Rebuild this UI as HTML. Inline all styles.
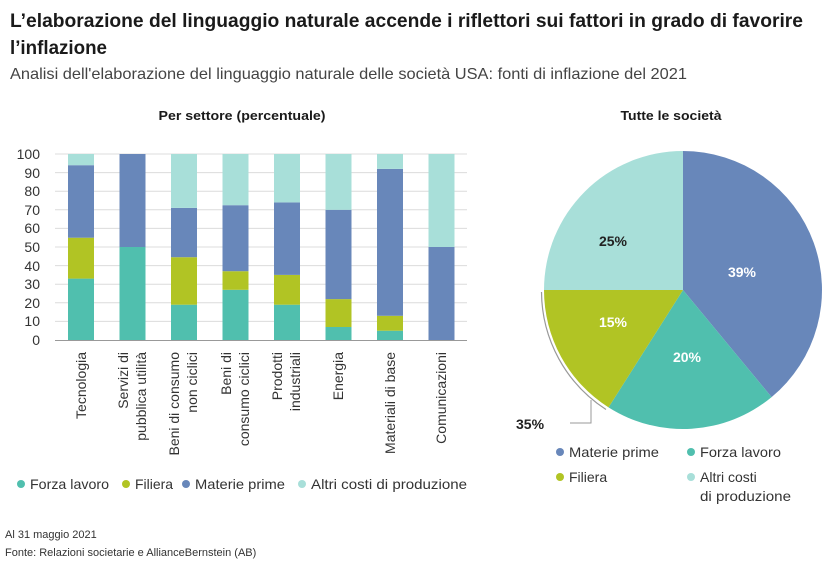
<!DOCTYPE html>
<html><head><meta charset="utf-8"><style>
body{margin:0;background:#fff;}
svg{display:block;font-family:"Liberation Sans",sans-serif;}
</style></head><body>
<svg width="840" height="561" viewBox="0 0 840 561">
<text x="10" y="27" font-size="19" font-weight="bold" fill="#1a1a1a" textLength="793" lengthAdjust="spacingAndGlyphs">L’elaborazione del linguaggio naturale accende i riflettori sui fattori in grado di favorire</text>
<text x="10" y="54" font-size="19" font-weight="bold" fill="#1a1a1a" textLength="97" lengthAdjust="spacingAndGlyphs">l’inflazione</text>
<text x="10" y="79" font-size="16" fill="#444" textLength="677" lengthAdjust="spacingAndGlyphs">Analisi dell'elaborazione del linguaggio naturale delle società USA: fonti di inflazione del 2021</text>
<text x="242" y="120" font-size="13" font-weight="bold" fill="#1a1a1a" text-anchor="middle" textLength="167" lengthAdjust="spacingAndGlyphs">Per settore (percentuale)</text>
<text x="671" y="120" font-size="13" font-weight="bold" fill="#1a1a1a" text-anchor="middle" textLength="101" lengthAdjust="spacingAndGlyphs">Tutte le società</text>
<g stroke="#dcdcdc" stroke-width="1">
<line x1="55" x2="467" y1="154" y2="154"/><line x1="55" x2="467" y1="172.6" y2="172.6"/><line x1="55" x2="467" y1="191.2" y2="191.2"/><line x1="55" x2="467" y1="209.8" y2="209.8"/><line x1="55" x2="467" y1="228.4" y2="228.4"/><line x1="55" x2="467" y1="247" y2="247"/><line x1="55" x2="467" y1="265.6" y2="265.6"/><line x1="55" x2="467" y1="284.2" y2="284.2"/><line x1="55" x2="467" y1="302.8" y2="302.8"/><line x1="55" x2="467" y1="321.4" y2="321.4"/>
</g>
<g font-size="14" fill="#333" text-anchor="end">
<text x="40" y="159">100</text><text x="40" y="178">90</text><text x="40" y="196">80</text><text x="40" y="215">70</text><text x="40" y="233">60</text><text x="40" y="252">50</text><text x="40" y="271">40</text><text x="40" y="289">30</text><text x="40" y="308">20</text><text x="40" y="326">10</text><text x="40" y="345">0</text>
</g>
<g>
<rect x="68" y="278.6" width="26" height="61.4" fill="#50bfae"/><rect x="68" y="237.7" width="26" height="40.9" fill="#b1c424"/><rect x="68" y="165.2" width="26" height="72.5" fill="#6887ba"/><rect x="68" y="154" width="26" height="11.2" fill="#a8dfd9"/>
<rect x="119.5" y="247" width="26" height="93" fill="#50bfae"/><rect x="119.5" y="154" width="26" height="93" fill="#6887ba"/>
<rect x="171" y="304.7" width="26" height="35.3" fill="#50bfae"/><rect x="171" y="257.2" width="26" height="47.5" fill="#b1c424"/><rect x="171" y="207.9" width="26" height="49.3" fill="#6887ba"/><rect x="171" y="154" width="26" height="53.9" fill="#a8dfd9"/>
<rect x="222.5" y="289.8" width="26" height="50.2" fill="#50bfae"/><rect x="222.5" y="271.2" width="26" height="18.6" fill="#b1c424"/><rect x="222.5" y="205.2" width="26" height="66" fill="#6887ba"/><rect x="222.5" y="154" width="26" height="51.2" fill="#a8dfd9"/>
<rect x="274" y="304.7" width="26" height="35.3" fill="#50bfae"/><rect x="274" y="274.9" width="26" height="29.8" fill="#b1c424"/><rect x="274" y="202.4" width="26" height="72.5" fill="#6887ba"/><rect x="274" y="154" width="26" height="48.4" fill="#a8dfd9"/>
<rect x="325.5" y="327" width="26" height="13" fill="#50bfae"/><rect x="325.5" y="299.1" width="26" height="27.9" fill="#b1c424"/><rect x="325.5" y="209.8" width="26" height="89.3" fill="#6887ba"/><rect x="325.5" y="154" width="26" height="55.8" fill="#a8dfd9"/>
<rect x="377" y="330.7" width="26" height="9.3" fill="#50bfae"/><rect x="377" y="315.8" width="26" height="14.9" fill="#b1c424"/><rect x="377" y="168.9" width="26" height="146.9" fill="#6887ba"/><rect x="377" y="154" width="26" height="14.9" fill="#a8dfd9"/>
<rect x="428.5" y="247" width="26" height="93" fill="#6887ba"/><rect x="428.5" y="154" width="26" height="93" fill="#a8dfd9"/>
</g>
<line x1="55" x2="467" y1="340.5" y2="340.5" stroke="#999"/>
<g font-size="14" fill="#333" text-anchor="end">
<text transform="translate(86,352) rotate(-90)">Tecnologia</text>
<text transform="translate(128,352) rotate(-90)">Servizi di</text>
<text transform="translate(146,352) rotate(-90)">pubblica utilità</text>
<text transform="translate(179,352) rotate(-90)">Beni di consumo</text>
<text transform="translate(197,352) rotate(-90)">non ciclici</text>
<text transform="translate(231,352) rotate(-90)">Beni di</text>
<text transform="translate(249,352) rotate(-90)">consumo ciclici</text>
<text transform="translate(282,352) rotate(-90)">Prodotti</text>
<text transform="translate(300,352) rotate(-90)">industriali</text>
<text transform="translate(343,352) rotate(-90)">Energia</text>
<text transform="translate(395,352) rotate(-90)">Materiali di base</text>
<text transform="translate(446,352) rotate(-90)">Comunicazioni</text>
</g>
<g font-size="14" fill="#333">
<circle cx="21" cy="484" r="4" fill="#50bfae"/><text x="30" y="489" textLength="79" lengthAdjust="spacingAndGlyphs">Forza lavoro</text>
<circle cx="126" cy="484" r="4" fill="#b1c424"/><text x="135" y="489" textLength="38" lengthAdjust="spacingAndGlyphs">Filiera</text>
<circle cx="186" cy="484" r="4" fill="#6887ba"/><text x="195" y="489" textLength="90" lengthAdjust="spacingAndGlyphs">Materie prime</text>
<circle cx="302" cy="484" r="4" fill="#a8dfd9"/><text x="311" y="489" textLength="156" lengthAdjust="spacingAndGlyphs">Altri costi di produzione</text>
</g>
<path d="M541.5,292 A141,141 0 0 0 606,409.5" fill="none" stroke="#999" stroke-width="1.2"/>
<path d="M683,290 L683,151 A139,139 0 0 1 771.6,397.1 Z" fill="#6887ba"/>
<path d="M683,290 L771.6,397.1 A139,139 0 0 1 608.5,407.4 Z" fill="#50bfae"/>
<path d="M683,290 L608.5,407.4 A139,139 0 0 1 544,290 Z" fill="#b1c424"/>
<path d="M683,290 L544,290 A139,139 0 0 1 683,151 Z" fill="#a8dfd9"/>
<path d="M591,400 L591,423 L570,423" fill="none" stroke="#999"/>
<g font-size="14" font-weight="bold">
<text x="742" y="277" fill="#fff" text-anchor="middle">39%</text>
<text x="687" y="362" fill="#fff" text-anchor="middle">20%</text>
<text x="613" y="327" fill="#fff" text-anchor="middle">15%</text>
<text x="613" y="246" fill="#222" text-anchor="middle">25%</text>
<text x="516" y="429" fill="#222">35%</text>
</g>
<g font-size="14" fill="#333">
<circle cx="560" cy="452" r="4" fill="#6887ba"/><text x="569" y="457" textLength="90" lengthAdjust="spacingAndGlyphs">Materie prime</text>
<circle cx="691" cy="452" r="4" fill="#50bfae"/><text x="700" y="457" textLength="81" lengthAdjust="spacingAndGlyphs">Forza lavoro</text>
<circle cx="560" cy="477" r="4" fill="#b1c424"/><text x="569" y="482">Filiera</text>
<circle cx="691" cy="477" r="4" fill="#a8dfd9"/><text x="700" y="482">Altri costi</text>
<text x="700" y="501" textLength="91" lengthAdjust="spacingAndGlyphs">di produzione</text>
</g>
<text x="5" y="538" font-size="11" fill="#333">Al 31 maggio 2021</text>
<text x="5" y="556" font-size="11" fill="#333">Fonte: Relazioni societarie e AllianceBernstein (AB)</text>
</svg>
</body></html>
